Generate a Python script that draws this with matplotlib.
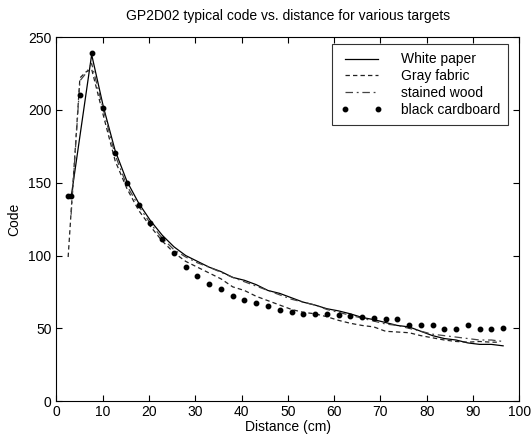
import matplotlib
matplotlib.use("Agg")
import matplotlib.pyplot as plt

plt.rcParams['font.family'] = ['Liberation Sans', 'DejaVu Sans']

# distances in cm (measurements taken every inch)
x_white = [3.18, 7.62, 10.16, 12.70, 15.24, 17.78, 20.32, 22.86, 25.40, 27.94, 30.48, 33.02,
           35.56, 38.10, 40.64, 43.18, 45.72, 48.26, 50.80, 53.34, 55.88, 58.42, 60.96, 63.50,
           66.04, 68.58, 71.12, 73.66, 76.20, 78.74, 81.28, 83.82, 86.36, 88.90, 91.44, 93.98, 96.52]
y_white = [140, 238, 202, 172, 151, 136, 124, 114, 106, 100, 96, 92,
           89, 85, 83, 80, 76, 74, 71, 68, 66, 63.5, 62, 60,
           57.5, 56, 54, 52, 51, 48, 45, 43, 42, 40, 39, 39, 38]

x_gray = [2.54, 3.18, 5.08, 6.35, 7.62, 10.16, 12.70, 15.24, 17.78, 20.32, 22.86, 25.40, 27.94,
          30.48, 33.02, 35.56, 38.10, 40.64, 43.18, 45.72, 48.26, 50.80, 53.34, 55.88, 58.42,
          60.96, 63.50, 66.04, 68.58, 71.12, 73.66, 76.20, 78.74, 81.28, 83.82, 86.36, 88.90,
          91.44, 93.98, 95.50]
y_gray = [99, 130, 222, 226, 228, 196, 165, 146, 131, 120, 110, 102, 96,
          92, 88, 84, 78.5, 76, 72, 69, 66, 63, 61, 60, 58,
          55.5, 53.5, 52, 51, 48, 47.5, 47, 45, 43.5, 42, 41, 40.5,
          41, 40.5, 40.5]

x_wood = [3.18, 5.08, 6.35, 7.62, 10.16, 12.70, 15.24, 17.78, 20.32, 22.86, 25.40, 27.94,
          30.48, 33.02, 35.56, 38.10, 40.64, 43.18, 45.72, 48.26, 50.80, 53.34, 55.88, 58.42,
          60.96, 63.50, 66.04, 68.58, 71.12, 73.66, 76.20, 78.74, 81.28, 83.82, 86.36, 88.90,
          91.44, 93.98, 96.52]
y_wood = [128, 220, 225, 232, 200, 169, 148, 134, 122, 112, 104, 99,
          95, 92, 88.5, 85, 82, 79, 76, 73, 70, 68, 66, 63,
          61, 59, 57, 55, 53, 52, 50, 48, 46, 45, 44, 43,
          42, 42, 41]

x_black = [2.54, 3.18, 5.08, 7.62, 10.16, 12.70, 15.24, 17.78, 20.32, 22.86, 25.40, 27.94,
           30.48, 33.02, 35.56, 38.10, 40.64, 43.18, 45.72, 48.26, 50.80, 53.34, 55.88, 58.42,
           60.96, 63.50, 66.04, 68.58, 71.12, 73.66, 76.20, 78.74, 81.28, 83.82, 86.36, 88.90,
           91.44, 93.98, 96.52]
y_black = [141, 141, 210, 239, 201, 170.5, 149.5, 134.6, 122.5, 111.3, 101.9, 92,
           86.3, 80.4, 76.7, 72.1, 69.8, 67.1, 65.5, 62.7, 61.1, 60.2, 60.2, 60.2,
           59, 58.6, 57.9, 57.2, 56.1, 56.1, 52.2, 52.2, 52.2, 49.5, 49.5, 52.2,
           49.9, 49.5, 50.1]

x_ticks = [0, 10, 20, 30, 40, 50, 60, 70, 80, 90, 100]
y_ticks = [0, 50, 100, 150, 200, 250]

FS = 10

fig = plt.figure(figsize=(5.32, 4.37), dpi=100)
ax = fig.add_axes([0.106, 0.082, 0.870, 0.833])

ax.plot(x_white, y_white, color='black', lw=0.9, ls='-', label='White paper')
ax.plot(x_gray, y_gray, color='#222222', lw=0.9, ls=(0, (3.5, 2.5)), label='Gray fabric')
ax.plot(x_wood, y_wood, color='#444444', lw=0.9, ls=(0, (6, 3, 1.5, 3)), label='stained wood')
ax.plot(x_black, y_black, color='black', ls='none', marker='o', ms=3.2, label='black cardboard')

ax.set_xlim(0, 100)
ax.set_ylim(0, 250)
ax.set_xticks(x_ticks)
ax.set_yticks(y_ticks)
ax.tick_params(direction='in', length=4, width=0.8, top=True, right=True, labelsize=FS)
ax.tick_params(axis='x', pad=2.5)
for s in ax.spines.values():
    s.set_linewidth(0.8)

ax.set_title('GP2D02 typical code vs. distance for various targets', fontsize=FS, pad=12)
ax.set_xlabel('Distance (cm)', fontsize=FS, labelpad=1)
ax.set_ylabel('Code', fontsize=FS, labelpad=5)

leg = ax.legend(loc='upper right', bbox_to_anchor=(0.976, 0.981), fontsize=FS, frameon=True,
                fancybox=False, numpoints=2, handlelength=3.0, borderaxespad=0.0,
                labelspacing=0.2, handletextpad=1.3, borderpad=0.6)
leg.get_frame().set_edgecolor('black')
leg.get_frame().set_linewidth(0.8)

fig.savefig('out.png', dpi=100)
